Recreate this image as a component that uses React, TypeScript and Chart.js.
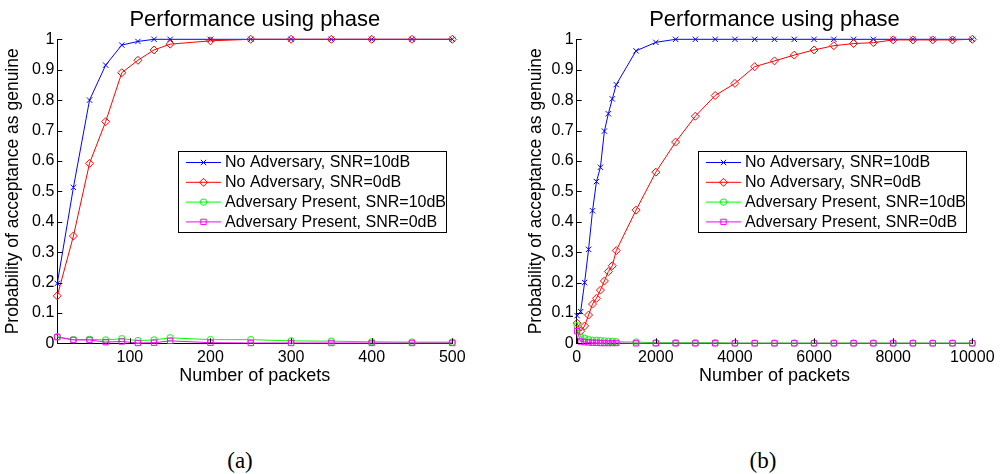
import React, { useEffect, useRef } from "react";
import { Chart, registerables } from "chart.js";

Chart.register(...registerables);

const FONT = '"Liberation Sans", Arial, Helvetica, sans-serif';

const chartTitle = "Performance using phase";
const xAxisTitle = "Number of packets";
const yAxisTitle = "Probability of acceptance as genuine";
const seriesLabels = [
  "No Adversary, SNR=10dB",
  "No Adversary, SNR=0dB",
  "Adversary Present, SNR=10dB",
  "Adversary Present, SNR=0dB",
];
const seriesColors = ["#0000ff", "#ff0000", "#00ff00", "#ff00ff"];
const markerStyles = ["crossRot", "rectRot", "circle", "rect"];
const markerRadii = [3.8, 4, 3.2, 3.8];

const yTicks = [0, 0.1, 0.2, 0.3, 0.4, 0.5, 0.6, 0.7, 0.8, 0.9, 1];

// Panel (a)
const packetsA = [10, 30, 50, 70, 90, 110, 130, 150, 200, 250, 300, 350, 400, 450, 500];
const xTicksA = [100, 200, 300, 400, 500];
const noAdv10A = [0.197, 0.513, 0.8, 0.915, 0.981, 0.993, 1, 1, 1, 1, 1, 1, 1, 1, 1];
const noAdv0A = [0.156, 0.353, 0.592, 0.729, 0.89, 0.931, 0.965, 0.984, 0.995, 1, 1, 1, 1, 1, 1];
const adv10A = [0.022, 0.012, 0.013, 0.011, 0.015, 0.009, 0.011, 0.018, 0.012, 0.012, 0.008, 0.007, 0.005, 0.004, 0.004];
const adv0A = [0.02, 0.011, 0.011, 0.004, 0.006, 0.001, 0.002, 0.008, 0.002, 0.001, 0.001, 0.001, 0.001, 0.001, 0.001];

// Panel (b)
const packetsB = [
  10, 100, 200, 300, 400, 500, 600, 700, 800, 900, 1000, 1500, 2000, 2500, 3000, 3500, 4000,
  4500, 5000, 5500, 6000, 6500, 7000, 7500, 8000, 8500, 9000, 9500, 10000,
];
const xTicksB = [0, 2000, 4000, 6000, 8000, 10000];
const noAdv10B = [
  0.091, 0.104, 0.2, 0.309, 0.436, 0.532, 0.579, 0.698, 0.755, 0.804, 0.851, 0.962, 0.99, 1, 1, 1,
  1, 1, 1, 1, 1, 1, 1, 1, 1, 1, 1, 1, 1,
];
const noAdv0B = [
  0.066, 0.04, 0.057, 0.093, 0.129, 0.148, 0.175, 0.205, 0.236, 0.255, 0.305, 0.438, 0.563, 0.662,
  0.747, 0.815, 0.855, 0.91, 0.929, 0.948, 0.965, 0.979, 0.986, 0.989, 0.998, 0.998, 0.998, 0.998, 1,
];
const adv10B = [
  0.058, 0.02, 0.016, 0.012, 0.01, 0.01, 0.009, 0.008, 0.007, 0.006, 0.005, 0.004, 0.002, 0.002,
  0.002, 0.002, 0.001, 0.001, 0.001, 0.001, 0.001, 0.001, 0.001, 0.001, 0.001, 0.001, 0.001, 0.001, 0.001,
];
const adv0B = [
  0.04, 0.006, 0.004, 0.003, 0.002, 0.002, 0.001, 0.001, 0.001, 0.001, 0.001, 0, 0, 0, 0, 0, 0, 0,
  0, 0, 0, 0, 0, 0, 0, 0, 0, 0, 0,
];

type PanelSpec = {
  xValues: number[];
  series: number[][];
  xMin: number;
  xMax: number;
  xTicks: number[];
  yAxisWidth: number;
  padRight: number;
  yTitlePad: number;
};

function drawMarker(ctx: CanvasRenderingContext2D, style: string, x: number, y: number, r: number) {
  ctx.beginPath();
  if (style === "crossRot") {
    const o = Math.SQRT1_2 * r;
    ctx.moveTo(x - o, y - o);
    ctx.lineTo(x + o, y + o);
    ctx.moveTo(x + o, y - o);
    ctx.lineTo(x - o, y + o);
  } else if (style === "rectRot") {
    ctx.moveTo(x - r, y);
    ctx.lineTo(x, y - r);
    ctx.lineTo(x + r, y);
    ctx.lineTo(x, y + r);
    ctx.closePath();
  } else if (style === "circle") {
    ctx.arc(x, y, r, 0, Math.PI * 2);
  } else {
    const s = Math.SQRT1_2 * r;
    ctx.rect(x - s, y - s, 2 * s, 2 * s);
  }
  ctx.stroke();
}

const decorPlugin = {
  id: "decor",
  afterDraw(chart: any) {
    const { ctx, chartArea: a, scales } = chart;
    ctx.save();
    // inward tick marks
    ctx.strokeStyle = "#000";
    ctx.lineWidth = 1;
    ctx.beginPath();
    scales.y.ticks.forEach((t: any) => {
      const py = Math.round(scales.y.getPixelForValue(t.value)) + 0.5;
      ctx.moveTo(a.left, py);
      ctx.lineTo(a.left + 5, py);
    });
    scales.x.ticks.forEach((t: any) => {
      const px = Math.round(scales.x.getPixelForValue(t.value)) + 0.5;
      ctx.moveTo(px, a.bottom);
      ctx.lineTo(px, a.bottom - 5);
    });
    ctx.stroke();

    // title
    ctx.fillStyle = "#000";
    ctx.font = `22px ${FONT}`;
    ctx.textAlign = "center";
    ctx.textBaseline = "alphabetic";
    ctx.fillText(chartTitle, (a.left + a.right) / 2, 26);

    // legend
    const bw = 268;
    const bh = 81;
    const bx = Math.round(a.right - 6 - bw) + 0.5;
    const by = 151.5;
    ctx.fillStyle = "#fff";
    ctx.fillRect(bx, by, bw, bh);
    ctx.strokeStyle = "#000";
    ctx.lineWidth = 1;
    ctx.strokeRect(bx, by, bw, bh);
    ctx.font = `16px ${FONT}`;
    ctx.textAlign = "left";
    ctx.textBaseline = "middle";
    chart.data.datasets.forEach((ds: any, i: number) => {
      const ry = by + 11 + i * 19.8;
      ctx.strokeStyle = ds.borderColor;
      ctx.lineWidth = 1;
      ctx.beginPath();
      ctx.moveTo(bx + 7.5, ry);
      ctx.lineTo(bx + 42.5, ry);
      ctx.stroke();
      drawMarker(ctx, ds.pointStyle, bx + 25, ry, ds.pointRadius);
      ctx.fillStyle = "#000";
      ctx.fillText(ds.label, bx + 46.5, ry + 0.5);
    });
    ctx.restore();
  },
};

function Panel({ spec, left }: { spec: PanelSpec; left: number }) {
  const ref = useRef<HTMLCanvasElement>(null);
  useEffect(() => {
    if (!ref.current) return;
    const chart = new Chart(ref.current, {
      type: "line",
      data: {
        datasets: spec.series.map((ys, i) => ({
          label: seriesLabels[i],
          data: spec.xValues.map((x, j) => ({ x, y: ys[j] })),
          borderColor: seriesColors[i],
          backgroundColor: "rgba(0,0,0,0)",
          borderWidth: 1,
          pointStyle: markerStyles[i] as any,
          pointRadius: markerRadii[i],
          pointBorderColor: seriesColors[i],
          pointBackgroundColor: "rgba(0,0,0,0)",
          pointBorderWidth: 1,
          tension: 0,
          fill: false,
          clip: false as any,
          order: 4 - i,
        })),
      },
      options: {
        responsive: false,
        animation: false,
        devicePixelRatio: 1,
        events: [],
        layout: { padding: { left: 0, top: 39.3, right: spec.padRight, bottom: 0 } },
        plugins: {
          legend: { display: false },
          title: { display: false },
          tooltip: { enabled: false },
        },
        scales: {
          x: {
            type: "linear",
            position: "bottom",
            min: spec.xMin,
            max: spec.xMax,
            afterBuildTicks: (s: any) => {
              s.ticks = spec.xTicks.map((v) => ({ value: v }));
            },
            afterFit: (s: any) => {
              s.height = 56.7;
            },
            ticks: {
              font: { family: FONT, size: 16 },
              color: "#000",
              padding: 5,
              maxRotation: 0,
              autoSkip: false,
              callback: (v: any) => String(v),
            },
            grid: { display: true, drawOnChartArea: false, drawTicks: false },
            border: { display: true, color: "#000", width: 1 },
            title: {
              display: true,
              text: xAxisTitle,
              color: "#000",
              font: { family: FONT, size: 18 },
              padding: { top: 0, bottom: 13 },
            },
          },
          y: {
            type: "linear",
            min: 0,
            max: 1,
            afterBuildTicks: (s: any) => {
              s.ticks = yTicks.map((v) => ({ value: v }));
            },
            afterFit: (s: any) => {
              s.width = spec.yAxisWidth;
            },
            ticks: {
              font: { family: FONT, size: 16 },
              color: "#000",
              padding: 3,
              autoSkip: false,
              callback: (v: any) => String(v),
            },
            grid: { display: true, drawOnChartArea: false, drawTicks: false },
            border: { display: true, color: "#000", width: 1 },
            title: {
              display: true,
              text: yAxisTitle,
              color: "#000",
              font: { family: FONT, size: 17.5 },
              padding: { top: spec.yTitlePad, bottom: 0 },
            },
          },
        },
      },
      plugins: [decorPlugin],
    } as any);
    return () => chart.destroy();
  }, [spec]);
  return (
    <canvas
      ref={ref}
      width={500}
      height={400}
      style={{ position: "absolute", left, top: 0, width: 500, height: 400 }}
    />
  );
}

const specA: PanelSpec = {
  xValues: packetsA,
  series: [noAdv10A, noAdv0A, adv10A, adv0A],
  xMin: 10,
  xMax: 500,
  xTicks: xTicksA,
  yAxisWidth: 57.3,
  padRight: 47.7,
  yTitlePad: 2.5,
};

const specB: PanelSpec = {
  xValues: packetsB,
  series: [noAdv10B, noAdv0B, adv10B, adv0B],
  xMin: 0,
  xMax: 10000,
  xTicks: xTicksB,
  yAxisWidth: 76.7,
  padRight: 27.7,
  yTitlePad: 25.5,
};

const captionStyle: React.CSSProperties = {
  position: "absolute",
  top: 460,
  transform: "translate(-50%, -50%)",
  font: '23px "Liberation Serif", "DejaVu Serif", serif',
  lineHeight: 1,
  color: "#000",
  whiteSpace: "nowrap",
};

export default function App() {
  return (
    <div
      style={{
        position: "fixed",
        left: 0,
        top: 0,
        width: 1000,
        height: 474,
        background: "#fff",
        overflow: "hidden",
      }}
    >
      <Panel spec={specA} left={0} />
      <Panel spec={specB} left={500} />
      <div style={{ ...captionStyle, left: 240 }}>(a)</div>
      <div style={{ ...captionStyle, left: 763 }}>(b)</div>
    </div>
  );
}
